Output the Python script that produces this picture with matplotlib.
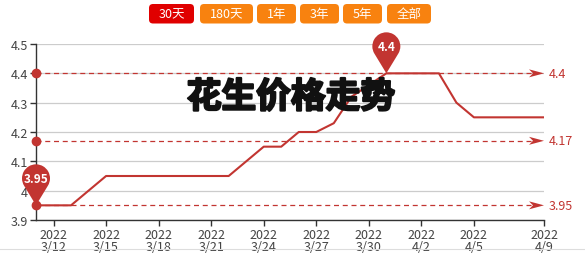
import matplotlib
matplotlib.use("Agg")
import matplotlib.pyplot as plt
import matplotlib.patheffects as pe
import numpy as np
from matplotlib.path import Path
from matplotlib.patches import PathPatch, FancyBboxPatch
from matplotlib.transforms import Affine2D, ScaledTranslation, IdentityTransform
from matplotlib.lines import Line2D

plt.rcParams['font.family'] = ['Noto Sans CJK SC', 'DejaVu Sans']

# ---- data ----
dates = ['3/11', '3/12', '3/13', '3/14', '3/15', '3/16', '3/17', '3/18', '3/19', '3/20',
         '3/21', '3/22', '3/23', '3/24', '3/25', '3/26', '3/27', '3/28', '3/29', '3/30',
         '3/31', '4/1', '4/2', '4/3', '4/4', '4/5', '4/6', '4/7', '4/8', '4/9']
prices = [3.95, 3.95, 3.95, 4.00, 4.05, 4.05, 4.05, 4.05, 4.05, 4.05,
          4.05, 4.05, 4.10, 4.15, 4.15, 4.20, 4.20, 4.23, 4.32, 4.36,
          4.40, 4.40, 4.40, 4.40, 4.30, 4.25, 4.25, 4.25, 4.25, 4.25]
year = '2022'
tick_dates = ['3/12', '3/15', '3/18', '3/21', '3/24', '3/27', '3/30', '4/2', '4/5', '4/9']
y_ticks = [3.9, 4.0, 4.1, 4.2, 4.3, 4.4, 4.5]
y_tick_labels = ['3.9', '4', '4.1', '4.2', '4.3', '4.4', '4.5']
buttons = ['30天', '180天', '1年', '3年', '5年', '全部']
title = '花生价格走势'

W, H = 585, 255
RED = '#c23531'
TXT = '#444444'

fig = plt.figure(figsize=(W / 100, H / 100), dpi=100)
ax = fig.add_axes([36 / W, 34 / H, (544 - 36) / W, (221 - 45) / H])

x = np.arange(len(dates))
ax.plot(x, prices, color=RED, lw=1.5, zorder=3, solid_joinstyle='round')

ax.set_xlim(0, len(dates) - 1)
ax.set_ylim(3.9, 4.5)
ax.set_yticks(y_ticks)
ax.set_yticklabels(y_tick_labels)
tick_idx = [dates.index(d) for d in tick_dates]
ax.set_xticks(tick_idx)
ax.set_xticklabels([f'{year}\n{d}' for d in tick_dates], linespacing=0.9)

for s in ['top', 'right']:
    ax.spines[s].set_visible(False)
for s in ['left', 'bottom']:
    ax.spines[s].set_color('#333333')
    ax.spines[s].set_linewidth(1.0)
ax.tick_params(axis='both', colors='#333333', labelcolor=TXT, labelsize=9,
               length=4, width=1.0, direction='out')
ax.tick_params(axis='x', pad=1.5)
ax.tick_params(axis='y', pad=2)
ax.yaxis.grid(True, color='#cccccc', lw=0.9)
ax.set_axisbelow(True)

# ---- reference lines: max, average, min ----
p_max = max(prices)
p_min = min(prices)
p_avg = round(float(np.mean(prices)), 2)
ref_vals = [p_max, p_avg, p_min]
ref_labels = [f'{p_max:g}', f'{p_avg:g}', f'{p_min:g}']

x_end = len(dates) - 1
arrow_verts = [(0, 0), (-15, 4), (-11, 0), (-15, -4), (0, 0)]
arrow_codes = [Path.MOVETO, Path.LINETO, Path.LINETO, Path.LINETO, Path.CLOSEPOLY]
for v, lab in zip(ref_vals, ref_labels):
    ax.plot([0, x_end - 0.6], [v, v], color=RED, lw=0.9, ls=(0, (4, 3)), zorder=2)
    ax.plot([0], [v], 'o', color=RED, ms=6, zorder=5, clip_on=False)
    tr = Affine2D() + ScaledTranslation(x_end, v, ax.transData)
    ax.add_patch(PathPatch(Path(arrow_verts, arrow_codes), facecolor=RED,
                           edgecolor='none', transform=tr, clip_on=False, zorder=5))
    ax.annotate(lab, (x_end, v), xytext=(5, 0), textcoords='offset pixels',
                ha='left', va='center', color=RED, fontsize=9, annotation_clip=False)


# ---- pin markers for the highest and lowest price ----
def pin_path(r=14.0, d=27.0):
    phi = np.degrees(np.arccos(r / d))
    arc = Path.arc(-90 + phi, 270 - phi)
    verts = arc.vertices * r + np.array([0, d])
    verts = np.vstack([[0, 0], verts, [0, 0]])
    codes = np.concatenate([[Path.MOVETO], [Path.LINETO], arc.codes[1:], [Path.LINETO]])
    return Path(verts, codes)


def add_pin(xi, yv, text):
    tr = Affine2D() + ScaledTranslation(xi, yv, ax.transData)
    ax.add_patch(PathPatch(pin_path(), facecolor=RED, edgecolor='none',
                           transform=tr, clip_on=False, zorder=6))
    ax.annotate(text, (xi, yv), xytext=(0, 27), textcoords='offset pixels',
                ha='center', va='center', color='white', fontsize=8.5,
                fontweight='bold', annotation_clip=False, zorder=7)


i_max = prices.index(p_max)
i_min = prices.index(p_min)
add_pin(i_max, p_max, f'{p_max:g}')
add_pin(i_min, p_min, f'{p_min:g}')

# ---- period buttons ----
btn_x = [(149, 194), (200, 253), (257, 296), (300, 339), (343, 382), (387, 431)]
btn_colors = ['#e00000'] + ['#f8820f'] * 5
for (x0, x1), lab, c in zip(btn_x, buttons, btn_colors):
    y0, y1 = H - 24.5, H - 5
    fig.patches.append(FancyBboxPatch((x0 + 3, y0 + 3), x1 - x0 - 6, y1 - y0 - 6,
                                      boxstyle='round,pad=3,rounding_size=4',
                                      facecolor=c, edgecolor='none',
                                      transform=IdentityTransform(), figure=fig))
    fig.text((x0 + x1) / 2 / W, (y0 + y1) / 2 / H, lab, ha='center', va='center',
             color='white', fontsize=9)

# ---- overlaid heading ----
fig.text(291 / W, 1 - 98 / H, title, ha='center', va='center', fontsize=25,
         fontweight='black', color='#111111', zorder=10,
         path_effects=[pe.withStroke(linewidth=1.6, foreground='#111111')])

# faint bottom border
fig.lines.append(Line2D([0, 1], [5 / H, 5 / H], transform=fig.transFigure,
                        color='#dddddd', lw=0.8))

fig.savefig('out.png', dpi=100)
